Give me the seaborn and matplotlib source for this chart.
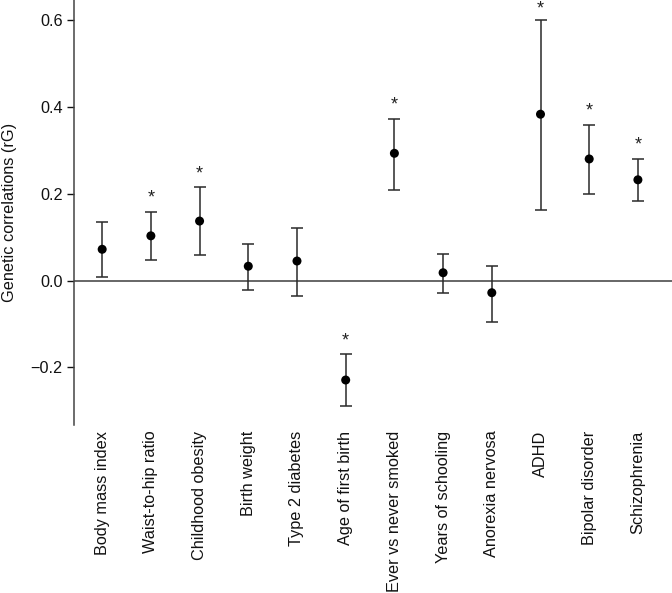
import matplotlib
matplotlib.use("Agg")
import matplotlib.pyplot as plt
import seaborn as sns
import numpy as np
import pandas as pd

traits = ["Body mass index", "Waist-to-hip ratio", "Childhood obesity", "Birth weight",
          "Type 2 diabetes", "Age of first birth", "Ever vs never smoked", "Years of schooling",
          "Anorexia nervosa", "ADHD", "Bipolar disorder", "Schizophrenia"]
rg = [0.072, 0.103, 0.137, 0.033, 0.045, -0.229, 0.293, 0.018, -0.028, 0.383, 0.280, 0.232]
upper = [0.135, 0.158, 0.215, 0.085, 0.122, -0.170, 0.373, 0.062, 0.033, 0.601, 0.358, 0.280]
lower = [0.008, 0.047, 0.058, -0.022, -0.035, -0.288, 0.209, -0.028, -0.095, 0.163, 0.200, 0.184]
significant = [False, True, True, False, False, True, True, False, False, True, True, True]

df = pd.DataFrame({"trait": traits, "rg": rg, "upper": upper, "lower": lower, "sig": significant})
df["pos"] = np.arange(len(df))

sns.set_style("white")
plt.rcParams['font.family'] = ['Liberation Sans', 'DejaVu Sans']

fig = plt.figure(figsize=(6.72, 5.93), dpi=100)
ax = fig.add_axes([0.110, 0.283, 0.890, 0.717])

ymin, ymax = -0.333, 0.646

ax.axhline(0, color="#5a5a5a", lw=1.3, zorder=1)
ax.errorbar(df["pos"], df["rg"],
            yerr=[df["rg"] - df["lower"], df["upper"] - df["rg"]],
            fmt="none", ecolor="#2a2a2a", elinewidth=1.1, capsize=4, capthick=1.1, zorder=2)
sns.scatterplot(data=df, x="pos", y="rg", color="black", s=42, edgecolor="none", ax=ax, zorder=3)

for _, r in df.iterrows():
    if r["sig"]:
        ax.text(r["pos"], min(r["upper"] + 0.051, ymax), "*", ha="center", va="top",
                fontsize=13, color="#222222", clip_on=False)

ax.set_xlim(-0.58, 11.7)
ax.set_ylim(ymin, ymax)
ax.set_yticks([-0.2, 0.0, 0.2, 0.4, 0.6])
ax.set_yticklabels(["\u22120.2", "0.0", "0.2", "0.4", "0.6"])
ax.set_xticks(df["pos"])
ax.set_xticklabels(df["trait"], rotation=90, va="top", ha="center")
ax.tick_params(axis="x", length=0, pad=4, labelsize=11.7, colors="#111111")
ax.tick_params(axis="y", length=5, width=1, direction="out", left=True, labelsize=11.7,
               colors="#111111", pad=3)
ax.set_xlabel("")
ax.set_ylabel("Genetic correlations (rG)", fontsize=11.7, color="#111111", labelpad=10)

for s in ["top", "right", "bottom"]:
    ax.spines[s].set_visible(False)
ax.spines["left"].set_color("#444444")
ax.spines["left"].set_linewidth(1.1)

fig.savefig("out.png", dpi=100)
